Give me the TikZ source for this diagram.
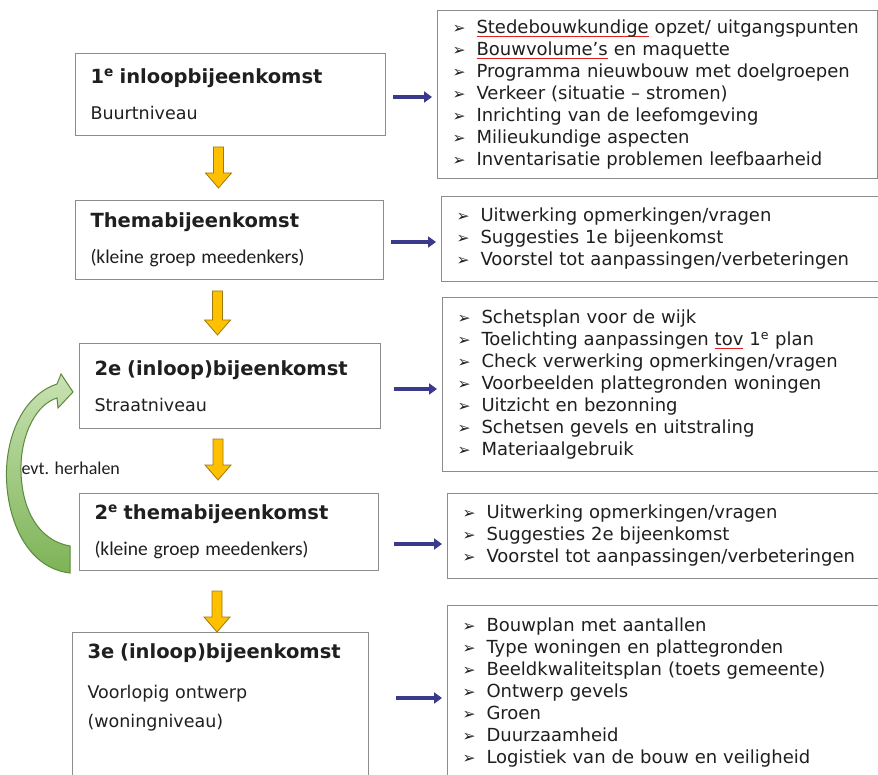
\documentclass[tikz,border=0pt]{standalone}
\usepackage{fontspec}
\setmainfont{DejaVu Sans}
\newfontfamily\calibri{Carlito}
\usetikzlibrary{calc}
\usetikzlibrary{arrows.meta}

\definecolor{boxgray}{HTML}{8C8C8C}
\definecolor{textgray}{HTML}{1F1F1F}
\definecolor{navy}{HTML}{3A3A8C}
\definecolor{goldfill}{HTML}{FFC000}
\definecolor{goldline}{HTML}{9C7A10}
\definecolor{leafline}{HTML}{5B8A3C}
\definecolor{leaflight}{HTML}{C9E2B3}
\definecolor{leafdark}{HTML}{7DB356}
\definecolor{spellred}{HTML}{E02020}

\newcommand{\bul}{\makebox[24pt][l]{\fontsize{15.5}{15}\selectfont ➢}}
\newsavebox{\spellbox}
\newcommand{\spell}[1]{\sbox{\spellbox}{#1}\rlap{\color{spellred}\rule[-4pt]{\wd\spellbox}{1.1pt}}\usebox{\spellbox}}
\newcommand{\ttl}[1]{\textbf{\fontsize{19.5}{22}\selectfont #1}}

\begin{document}
\begin{tikzpicture}[
    x=1pt, y=-1pt,
    stagebox/.style 2 args={
        draw=boxgray,
        line width=1pt,
        anchor=north west,
        align=left,
        inner xsep=15pt,
        text width=#1,
        minimum height=#2,
        text=textgray,
        font=\fontsize{17.5}{20}\selectfont
    },
    listbox/.style 2 args={
        draw=boxgray,
        line width=1pt,
        anchor=north west,
        align=left,
        inner xsep=15pt,
        text width=#1,
        minimum height=#2,
        text=textgray,
        font=\fontsize{18}{22}\selectfont
    },
    navyarrow/.style={
        draw=navy,
        line width=4pt,
        -{Triangle[length=8pt,width=11pt]},
        shorten >=5pt
    },
    goldarrow/.style={
        fill=goldfill,
        draw=goldline,
        line width=0.8pt
    }
]
\useasboundingbox (0,0) rectangle (878,775);
\fill[white] (0,0) rectangle (878,775);
\clip (0,0) rectangle (878,775);

% stages
\node[stagebox={280pt}{82pt}] (box1) at (75,53)
    {\ttl{1\textsuperscript{e} inloopbijeenkomst}\\[16pt]Buurtniveau};
\node[stagebox={278pt}{79pt}] (box2) at (75,200)
    {\ttl{Themabijeenkomst}\\[16pt]{\calibri\fontsize{19.5}{20}\selectfont (kleine groep meedenkers)}};
\node[stagebox={271pt}{85pt}] (box3) at (79,343)
    {\ttl{2e (inloop)bijeenkomst}\\[16pt]Straatniveau};
\node[stagebox={269pt}{77pt}] (box4) at (79,493)
    {\ttl{2\textsuperscript{e} themabijeenkomst}\\[16pt]{\calibri\fontsize{19.5}{20}\selectfont (kleine groep meedenkers)}};
\node[stagebox={266pt}{100pt}, inner ysep=11pt] (box5) at (72,632)
    {\ttl{3e (inloop)bijeenkomst}\\[20pt]Voorlopig ontwerp\\[9pt](woningniveau)\\[60pt]\mbox{}};

% topics
\node[listbox={410pt}{168pt}] (list1) at (437,10) {%
    \bul\spell{Stedebouwkundige} opzet/ uitgangspunten\\
    \bul\spell{Bouwvolume’s} en maquette\\
    \bul Programma nieuwbouw met doelgroepen\\
    \bul Verkeer (situatie – stromen)\\
    \bul Inrichting van de leefomgeving\\
    \bul Milieukundige aspecten\\
    \bul Inventarisatie problemen leefbaarheid};
\node[listbox={415pt}{85pt}] (list2) at (441,196) {%
    \bul Uitwerking opmerkingen/vragen\\
    \bul Suggesties 1e bijeenkomst\\
    \bul Voorstel tot aanpassingen/verbeteringen};
\node[listbox={415pt}{174pt}] (list3) at (442,297) {%
    \bul Schetsplan voor de wijk\\
    \bul Toelichting aanpassingen \spell{tov} 1\textsuperscript{e} plan\\
    \bul Check verwerking opmerkingen/vragen\\
    \bul Voorbeelden plattegronden woningen\\
    \bul Uitzicht en bezonning\\
    \bul Schetsen gevels en uitstraling\\
    \bul Materiaalgebruik};
\node[listbox={410pt}{85pt}] (list4) at (447,493) {%
    \bul Uitwerking opmerkingen/vragen\\
    \bul Suggesties 2e bijeenkomst\\
    \bul Voorstel tot aanpassingen/verbeteringen};
\node[listbox={410pt}{175pt}] (list5) at (447,605) {%
    \bul Bouwplan met aantallen\\
    \bul Type woningen en plattegronden\\
    \bul Beeldkwaliteitsplan (toets gemeente)\\
    \bul Ontwerp gevels\\
    \bul Groen\\
    \bul Duurzaamheid\\
    \bul Logistiek van de bouw en veiligheid};

% stage to topics
\foreach \i/\y/\g in {1/97/7, 2/242/7, 3/389/13, 4/544/15, 5/698/27} {
    \coordinate (ya\i) at (0,\y);
    \coordinate (xa\i) at ($(box\i.east)+(\g,0)$);
    \draw[navyarrow] (xa\i |- ya\i) -- (ya\i -| list\i.west);
}

% stage to stage
\foreach \a/\b/\s/\e in {box1/box2/11/12, box2/box3/11/8, box3/box4/10/13, box4/box5/20/0} {
    \coordinate (ds) at ($(\a.south)+(-12,\s)$);
    \coordinate (de) at ($(ds |- \b.north)+(0,-\e)$);
    \draw[goldarrow] ($(ds)+(-5,0)$) -- ($(ds)+(5,0)$) -- ($(de)+(5,-15)$)
        -- ($(de)+(13,-15)$) -- (de) -- ($(de)+(-13,-15)$) -- ($(de)+(-5,-15)$) -- cycle;
}

% repeat loop
\shade[top color=leaflight, bottom color=leafdark, draw=leafline, line width=1pt]
    (70,573) .. controls (20,567) and (3,505) .. (7,462)
    .. controls (11,420) and (32,392) .. (57,384)
    -- (61,374) -- (73,392) -- (58,408) -- (57,398)
    .. controls (37,404) and (22,432) .. (21,465)
    .. controls (20,505) and (36,540) .. (70,546) -- cycle;
\node[anchor=west, text=textgray, font=\calibri\fontsize{18}{20}\selectfont] (herhalen) at (18,468) {evt. herhalen};
\end{tikzpicture}
\end{document}
